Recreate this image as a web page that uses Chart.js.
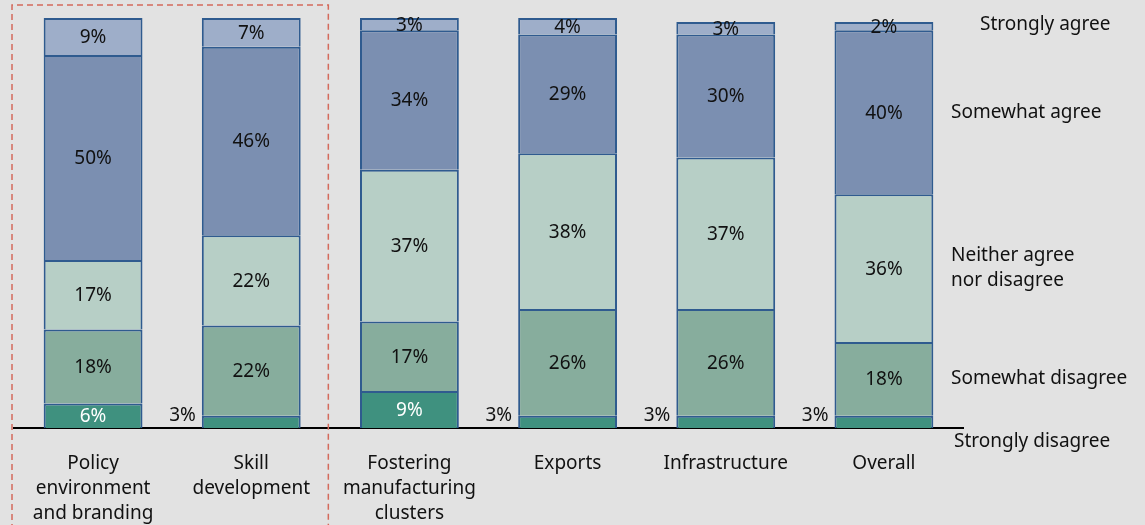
<!DOCTYPE html>
<html>
<head>
<meta charset="utf-8">
<script src="https://cdn.jsdelivr.net/npm/chart.js@4.4.1/dist/chart.umd.min.js"></script>
<style>
    html, body { margin: 0; padding: 0; background: #e2e2e2; }
    canvas { display: block; }
</style>
</head>
<body>
<canvas id="chart" width="1145" height="525"></canvas>
<script>
var categories = [
    ['Policy', 'environment', 'and branding'],
    ['Skill', 'development'],
    ['Fostering', 'manufacturing', 'clusters'],
    ['Exports'],
    ['Infrastructure'],
    ['Overall']
];

var stronglyDisagree = [6, 3, 9, 3, 3, 3];
var somewhatDisagree = [18, 22, 17, 26, 26, 18];
var neitherAgree = [17, 22, 37, 38, 37, 36];
var somewhatAgree = [50, 46, 34, 29, 30, 40];
var stronglyAgree = [9, 7, 3, 4, 3, 2];

var seriesNames = [
    ['Strongly disagree'],
    ['Somewhat disagree'],
    ['Neither agree', 'nor disagree'],
    ['Somewhat agree'],
    ['Strongly agree']
];

var FONT = '"Noto Sans", "Open Sans", sans-serif';
var BORDER = '#2f5b8f';

function makeSet(name, values, color) {
    return {
        label: name,
        data: values,
        backgroundColor: color,
        borderColor: BORDER,
        // every segment draws only its own top seam; the one below it is the next segment's top
        borderWidth: { left: 2, right: 2, top: 2, bottom: 0 },
        borderSkipped: false,
        inflateAmount: 0,
        barPercentage: 0.625,
        categoryPercentage: 1
    };
}

// percent labels on each segment; tiny bottom segments get theirs outside, to the left
var segmentLabels = {
    id: 'segmentLabels',
    afterDatasetsDraw: function(chart) {
        var ctx = chart.ctx;
        ctx.save();
        ctx.font = '19px ' + FONT;
        ctx.textBaseline = 'middle';
        chart.data.datasets.forEach(function(ds, di) {
            var meta = chart.getDatasetMeta(di);
            meta.data.forEach(function(bar, i) {
                var v = ds.data[i];
                var text = v + '%';
                if (di === 0 && v <= 3) {
                    ctx.fillStyle = '#111';
                    ctx.textAlign = 'right';
                    ctx.fillText(text, bar.x - bar.width / 2 - 6, bar.y);
                    return;
                }
                ctx.fillStyle = di === 0 ? '#ffffff' : '#111';
                ctx.textAlign = 'center';
                ctx.fillText(text, bar.x, (bar.y + bar.base) / 2 + 1);
            });
        });
        ctx.restore();
    }
};

// series names at the right, lined up with the last column
var sideLegend = {
    id: 'sideLegend',
    afterDraw: function(chart) {
        var ctx = chart.ctx;
        var area = chart.chartArea;
        var last = chart.data.labels.length - 1;
        ctx.save();
        ctx.font = '19px ' + FONT;
        ctx.fillStyle = '#111';
        ctx.textAlign = 'left';
        ctx.textBaseline = 'middle';
        seriesNames.forEach(function(lines, di) {
            var bar = chart.getDatasetMeta(di).data[last];
            var y = (bar.y + bar.base) / 2;
            var x = area.right - 12;
            if (di === 0) {
                y = area.bottom + 14;
                x = area.right - 9;
            }
            if (di === seriesNames.length - 1) {
                y = area.top + 7;
                x = area.right + 17;
            }
            var top = y - (lines.length - 1) * 25 / 2;
            lines.forEach(function(line, k) {
                ctx.fillText(line, x, top + k * 25);
            });
        });
        ctx.restore();
    }
};

// dashed frame around the first two columns
var dashedFrame = {
    id: 'dashedFrame',
    afterDraw: function(chart) {
        var ctx = chart.ctx;
        var x = chart.scales.x;
        var left = chart.chartArea.left - 2;
        var right = x.getPixelForValue(1.5) - 2;
        ctx.save();
        ctx.strokeStyle = '#d46a5c';
        ctx.lineWidth = 1.5;
        ctx.setLineDash([6, 4]);
        ctx.beginPath();
        ctx.moveTo(left, chart.height + 5);
        ctx.lineTo(left, 5);
        ctx.lineTo(right, 5);
        ctx.lineTo(right, chart.height + 5);
        ctx.stroke();
        ctx.restore();
    }
};

var config = {
    type: 'bar',
    data: {
        labels: categories,
        datasets: [
            makeSet('Strongly disagree', stronglyDisagree, '#3f917f'),
            makeSet('Somewhat disagree', somewhatDisagree, '#87ad9d'),
            makeSet('Neither agree nor disagree', neitherAgree, '#b7cfc6'),
            makeSet('Somewhat agree', somewhatAgree, '#7b8fb1'),
            makeSet('Strongly agree', stronglyAgree, '#9eaec9')
        ]
    },
    options: {
        responsive: false,
        animation: false,
        layout: {
            padding: { left: 14, right: 182, top: 18, bottom: 0 }
        },
        plugins: {
            legend: { display: false },
            tooltip: { enabled: false }
        },
        scales: {
            x: {
                stacked: true,
                z: 1,
                grid: { display: false, drawTicks: false },
                border: { display: true, color: '#000', width: 2 },
                afterFit: function(scale) {
                    scale.height = 97;
                },
                ticks: {
                    color: '#111',
                    padding: 23,
                    maxRotation: 0,
                    autoSkip: false,
                    font: { family: FONT, size: 19, lineHeight: 25 / 19 }
                }
            },
            y: {
                stacked: true,
                display: false,
                min: 0,
                max: 100
            }
        }
    },
    plugins: [segmentLabels, sideLegend, dashedFrame]
};

var chart;

window.onload = () => {
    chart = new Chart(
        document.getElementById('chart'),
        config
    );
};
</script>
</body>
</html>
